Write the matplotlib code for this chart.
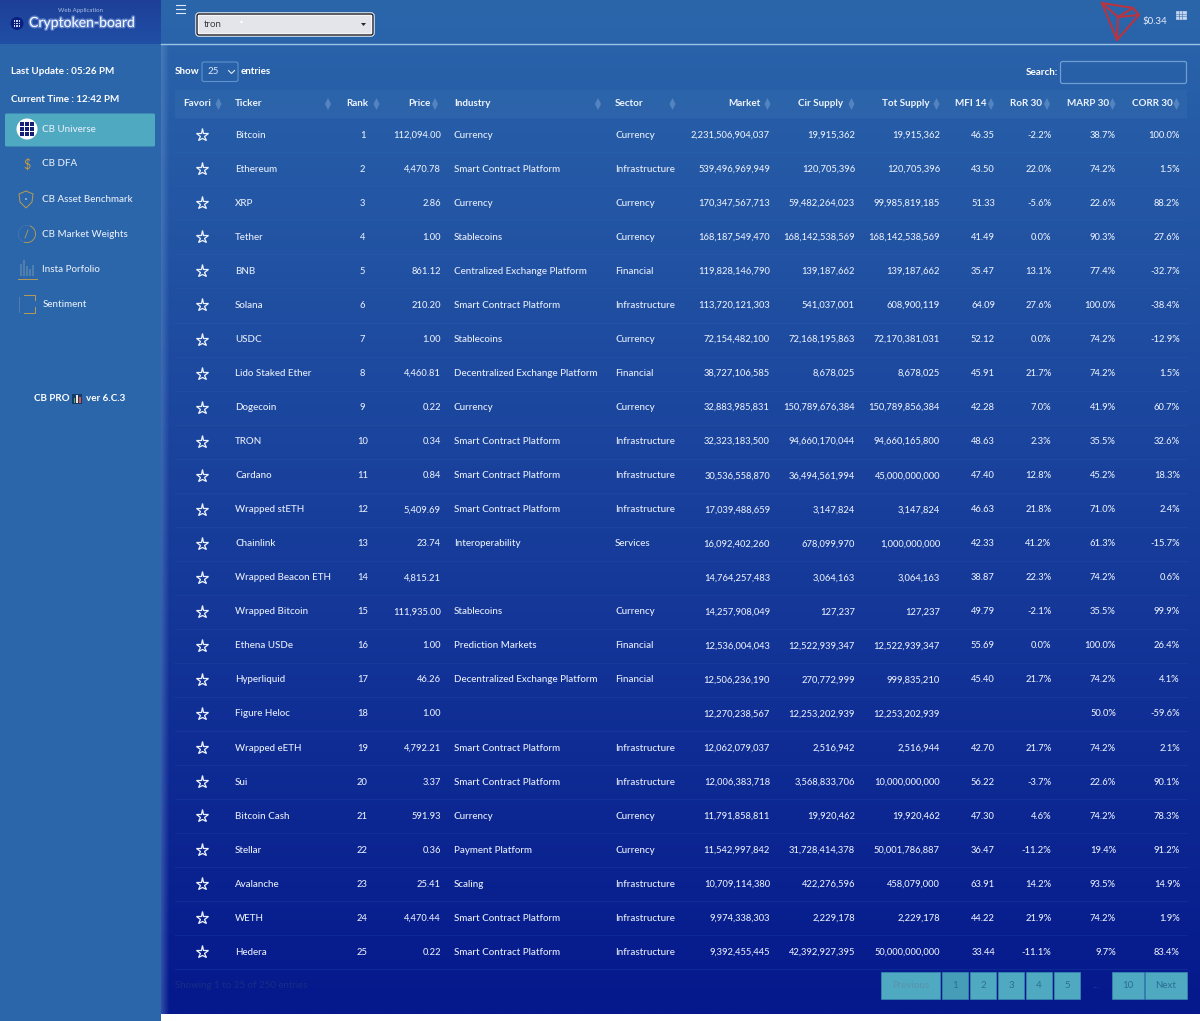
import matplotlib
matplotlib.use('Agg')
import matplotlib.pyplot as plt
import matplotlib.patheffects as pe
from matplotlib.patches import FancyBboxPatch, Rectangle, Circle, Polygon, Wedge
import numpy as np

plt.rcParams['font.family'] = ['Lato', 'DejaVu Sans']

# table content
tickers = ['Bitcoin', 'Ethereum', 'XRP', 'Tether', 'BNB', 'Solana', 'USDC', 'Lido Staked Ether', 'Dogecoin', 'TRON',
           'Cardano', 'Wrapped stETH', 'Chainlink', 'Wrapped Beacon ETH', 'Wrapped Bitcoin', 'Ethena USDe',
           'Hyperliquid', 'Figure Heloc', 'Wrapped eETH', 'Sui', 'Bitcoin Cash', 'Stellar', 'Avalanche', 'WETH', 'Hedera']
ranks = list(range(1, 26))
prices = ['112,094.00', '4,470.78', '2.86', '1.00', '861.12', '210.20', '1.00', '4,460.81', '0.22', '0.34',
          '0.84', '5,409.69', '23.74', '4,815.21', '111,935.00', '1.00', '46.26', '1.00', '4,792.21', '3.37',
          '591.93', '0.36', '25.41', '4,470.44', '0.22']
industries = ['Currency', 'Smart Contract Platform', 'Currency', 'Stablecoins', 'Centralized Exchange Platform',
              'Smart Contract Platform', 'Stablecoins', 'Decentralized Exchange Platform', 'Currency',
              'Smart Contract Platform', 'Smart Contract Platform', 'Smart Contract Platform', 'Interoperability', '',
              'Stablecoins', 'Prediction Markets', 'Decentralized Exchange Platform', '', 'Smart Contract Platform',
              'Smart Contract Platform', 'Currency', 'Payment Platform', 'Scaling', 'Smart Contract Platform',
              'Smart Contract Platform']
sectors = ['Currency', 'Infrastructure', 'Currency', 'Currency', 'Financial', 'Infrastructure', 'Currency', 'Financial',
           'Currency', 'Infrastructure', 'Infrastructure', 'Infrastructure', 'Services', '', 'Currency', 'Financial',
           'Financial', '', 'Infrastructure', 'Infrastructure', 'Currency', 'Currency', 'Infrastructure',
           'Infrastructure', 'Infrastructure']
markets = ['2,231,506,904,037', '539,496,969,949', '170,347,567,713', '168,187,549,470', '119,828,146,790',
           '113,720,121,303', '72,154,482,100', '38,727,106,585', '32,883,985,831', '32,323,183,500', '30,536,558,870',
           '17,039,488,659', '16,092,402,260', '14,764,257,483', '14,257,908,049', '12,536,004,043', '12,506,236,190',
           '12,270,238,567', '12,062,079,037', '12,006,383,718', '11,791,858,811', '11,542,997,842', '10,709,114,380',
           '9,974,338,303', '9,392,455,445']
cir_supply = ['19,915,362', '120,705,396', '59,482,264,023', '168,142,538,569', '139,187,662', '541,037,001',
              '72,168,195,863', '8,678,025', '150,789,676,384', '94,660,170,044', '36,494,561,994', '3,147,824',
              '678,099,970', '3,064,163', '127,237', '12,522,939,347', '270,772,999', '12,253,202,939', '2,516,942',
              '3,568,833,706', '19,920,462', '31,728,414,378', '422,276,596', '2,229,178', '42,392,927,395']
tot_supply = ['19,915,362', '120,705,396', '99,985,819,185', '168,142,538,569', '139,187,662', '608,900,119',
              '72,170,381,031', '8,678,025', '150,789,856,384', '94,660,165,800', '45,000,000,000', '3,147,824',
              '1,000,000,000', '3,064,163', '127,237', '12,522,939,347', '999,835,210', '12,253,202,939', '2,516,944',
              '10,000,000,000', '19,920,462', '50,001,786,887', '458,079,000', '2,229,178', '50,000,000,000']
mfi14 = ['46.35', '43.50', '51.33', '41.49', '35.47', '64.09', '52.12', '45.91', '42.28', '48.63', '47.40', '46.63',
         '42.33', '38.87', '49.79', '55.69', '45.40', '', '42.70', '56.22', '47.30', '36.47', '63.91', '44.22', '33.44']
ror30 = ['-2.2%', '22.0%', '-5.6%', '0.0%', '13.1%', '27.6%', '0.0%', '21.7%', '7.0%', '2.3%', '12.8%', '21.8%',
         '41.2%', '22.3%', '-2.1%', '0.0%', '21.7%', '', '21.7%', '-3.7%', '4.6%', '-11.2%', '14.2%', '21.9%', '-11.1%']
marp30 = ['38.7%', '74.2%', '22.6%', '90.3%', '77.4%', '100.0%', '74.2%', '74.2%', '41.9%', '35.5%', '45.2%', '71.0%',
          '61.3%', '74.2%', '35.5%', '100.0%', '74.2%', '50.0%', '74.2%', '22.6%', '74.2%', '19.4%', '93.5%', '74.2%', '9.7%']
corr30 = ['100.0%', '1.5%', '88.2%', '27.6%', '-32.7%', '-38.4%', '-12.9%', '1.5%', '60.7%', '32.6%', '18.3%', '2.4%',
          '-15.7%', '0.6%', '99.9%', '26.4%', '4.1%', '-59.6%', '2.1%', '90.1%', '78.3%', '91.2%', '14.9%', '1.9%', '83.4%']

headers = ['Favori', 'Ticker', 'Rank', 'Price', 'Industry', 'Sector', 'Market', 'Cir Supply', 'Tot Supply',
           'MFI 14', 'RoR 30', 'MARP 30', 'CORR 30']
menu_labels = ['CB Universe', 'CB DFA', 'CB Asset Benchmark', 'CB Market Weights', 'Insta Porfolio', 'Sentiment']
page_labels = ['Previous', '1', '2', '3', '4', '5', '10', 'Next']

W, H = 1200, 1021
FS = 7.0      # texte
FN = 6.75     # chiffres, Lato est plus large ici
FB = 7.15     # gras
TXT = '#e8eefa'
WT = 'medium'

fig = plt.figure(figsize=(W / 100, H / 100), dpi=100)
ax = fig.add_axes([0, 0, 1, 1])
ax.set_xlim(0, W)
ax.set_ylim(H, 0)
ax.axis('off')


def vgrad(x0, x1, y0, y1, c0, c1, z=0):
    c0 = np.array(matplotlib.colors.to_rgb(c0))
    c1 = np.array(matplotlib.colors.to_rgb(c1))
    t = np.linspace(0, 1, 256)[:, None, None]
    img = c0[None, None, :] * (1 - t) + c1[None, None, :] * t
    ax.imshow(img, extent=(x0, x1, y1, y0), aspect='auto', zorder=z, interpolation='bilinear')


# fonds
ax.add_patch(Rectangle((0, 0), W, H, fc='white', zorder=0))
vgrad(160, W, 0, 1014, '#2b66ab', '#05188c', z=1)
ax.add_patch(Rectangle((0, 0), 161, H, fc='#2b66aa', zorder=2))
vgrad(0, 161, 0, 44, '#1d3f97', '#214fa6', z=3)
# ombre a gauche du contenu
for i in range(8):
    ax.add_patch(Rectangle((161 + i, 44), 1, 970, fc='#6f9ad0', alpha=0.4 * (1 - i / 8), lw=0, zorder=3))
ax.plot([161, W], [44.5, 44.5], color='#9cc3e6', lw=1.0, zorder=4)

# logo
ax.text(80, 10.5, 'Web Application', ha='center', va='center', fontsize=4.4, color='#a9bde2', zorder=5)
ax.add_patch(Circle((17, 23.5), 6.5, fc='#0a1f80', zorder=5))
for gx in (14.5, 17, 19.5):
    for gy in (21, 23.5, 26):
        ax.add_patch(Rectangle((gx - 0.8, gy - 0.8), 1.6, 1.6, fc='#c8d6f5', lw=0, zorder=6))
ax.text(29, 23, 'Cryptoken-board', ha='left', va='center', fontsize=10.1, color='#f2f6ff', zorder=6,
        path_effects=[pe.withStroke(linewidth=2, foreground='#7f9fe0', alpha=0.6)])

# barre du haut
for y in (5, 9, 13):
    ax.plot([176, 185], [y, y], color='#dfe8f6', lw=0.8, zorder=5)
ax.add_patch(FancyBboxPatch((197, 14), 176, 21, boxstyle='round,pad=0,rounding_size=2', fc='#e3e5ea', ec='white',
                            lw=2.4, zorder=5))
ax.add_patch(FancyBboxPatch((197, 14), 176, 21, boxstyle='round,pad=0,rounding_size=2', fc='none', ec='#1a1a22',
                            lw=1.0, zorder=6))
ax.text(204, 24.5, 'tron', ha='left', va='center', fontsize=FS, color='#3a3f48', zorder=6)
ax.add_patch(Circle((241.5, 22), 1.2, fc='white', zorder=6))
ax.add_patch(Polygon([(361, 23), (366, 23), (363.5, 26)], fc='#22262e', zorder=6))

# logo tron + prix
red = '#b8353f'
for seg in ([(1102, 3), (1133, 8), (1139, 15), (1117, 40), (1102, 3)], [(1102, 3), (1118, 17), (1133, 8)],
            [(1118, 17), (1139, 15)], [(1118, 17), (1117, 40)]):
    xs, ys = zip(*seg)
    ax.plot(xs, ys, color=red, lw=1.5, zorder=5, solid_joinstyle='round')
ax.text(1142, 21.5, '$0.34', ha='left', va='center', fontsize=FS, color=TXT, zorder=6)
ax.add_patch(Rectangle((1176, 11), 9.5, 8, fc='#c6d6ee', ec='#dbe6f6', lw=0.4, zorder=5))
for gx in (1179, 1182.3):
    ax.plot([gx, gx], [11, 19], color='#3a70b0', lw=0.4, zorder=6)
for gy in (13.7, 16.3):
    ax.plot([1176, 1185.5], [gy, gy], color='#3a70b0', lw=0.4, zorder=6)

# menu lateral
ax.text(11, 71.5, 'Last Update : 05:26 PM', ha='left', va='center', fontsize=FB, fontweight='bold', color='white', zorder=5)
ax.text(11, 100, 'Current Time : 12:42 PM', ha='left', va='center', fontsize=FB, fontweight='bold', color='white', zorder=5)
ax.add_patch(FancyBboxPatch((5, 113.5), 150, 33, boxstyle='round,pad=0,rounding_size=1.5', fc='#4fa9c1', ec='none', zorder=4))
ax.add_patch(Circle((27, 129), 10.5, fc='white', zorder=5))
for gx in (22, 27, 32):
    for gy in (124, 129, 134):
        ax.add_patch(Rectangle((gx - 1.8, gy - 1.8), 3.6, 3.6, fc='#141f78', lw=0, zorder=6))
for i, lab in enumerate(menu_labels):
    ax.text(42.5, 129 + i * 35, lab, ha='left', va='center', fontsize=FS, fontweight=WT, color='#e6eefa', zorder=6)

gold = '#b99a55'
# icones du menu (simplifiees)
ax.text(27, 164, '$', ha='center', va='center', fontsize=9, color='#c79a45', zorder=5)
ax.add_patch(Polygon([(26, 191), (33, 194), (32, 202), (26, 208), (20, 202), (19, 194)], fc='none', ec=gold, lw=0.7, zorder=5))
ax.add_patch(Circle((26, 199), 0.8, fc='#d8e4f5', zorder=5))
ax.add_patch(Wedge((27, 234), 9, -70, 110, width=0.9, fc=gold, lw=0, zorder=5))
ax.add_patch(Wedge((27, 234), 9, 110, 290, width=0.5, fc='#4f7fae', lw=0, zorder=5))
ax.plot([25, 28], [238, 230], color=gold, lw=0.6, zorder=5)
for bx, bh in zip((20, 23, 26, 29, 32), (12, 16, 10, 7, 11)):
    ax.add_patch(Rectangle((bx, 276 - bh), 2, bh, fc='#4f7fae', lw=0, zorder=5))
ax.plot([18, 37], [279, 279], color=gold, lw=0.7, zorder=5)
ax.plot([24, 34.5, 34.5], [295, 295, 300], color=gold, lw=0.7, zorder=5)
ax.plot([34.5, 34.5, 24], [307, 313.5, 313.5], color=gold, lw=0.7, zorder=5)
ax.plot([19, 19], [297, 312], color='#4f7fae', lw=0.7, zorder=5)

ax.text(34, 398.5, 'CB PRO', ha='left', va='center', fontsize=FB, fontweight='bold', color='white', zorder=5)
ax.add_patch(Rectangle((72, 394), 10, 10, fc='#173a66', zorder=5))
for bx, bh, bc in zip((73.5, 76.3, 79.1), (5, 8, 6), ('#4fae5a', '#e8e8e8', '#d9534f')):
    ax.add_patch(Rectangle((bx, 403 - bh), 1.8, bh, fc=bc, lw=0, zorder=6))
ax.text(86, 398.5, 'ver 6.C.3', ha='left', va='center', fontsize=FB, fontweight='bold', color='white', zorder=5)

# controles du tableau
ax.text(175, 72, 'Show', ha='left', va='center', fontsize=FB, fontweight='bold', color='white', zorder=5)
ax.add_patch(FancyBboxPatch((202, 62), 36, 19.5, boxstyle='round,pad=0,rounding_size=2', fc='none', ec='#5f93cc', lw=0.8, zorder=5))
ax.text(208, 72, '25', ha='left', va='center', fontsize=FS, color='#dfe8f6', zorder=5)
ax.plot([228.5, 231.5, 234.5], [70.5, 73.5, 70.5], color='#dfe8f6', lw=0.8, zorder=5)
ax.text(241, 72, 'entries', ha='left', va='center', fontsize=FB, fontweight='bold', color='white', zorder=5)
ax.text(1058, 72.5, 'Search:', ha='right', va='center', fontsize=FB, fontweight='bold', color='white', zorder=5)
ax.add_patch(FancyBboxPatch((1060.5, 61.5), 126, 22, boxstyle='round,pad=0,rounding_size=2', fc='none', ec='#6f9fd2', lw=0.9, zorder=5))

# en-tete
ax.add_patch(Rectangle((175, 90), 1012, 28, fc='#3a72b4', alpha=0.3, lw=0, zorder=2))
head_x = [183, 235, 346, 408, 454, 615, 728, 798, 882, 955, 1010, 1067, 1132]
sort_x = [218.5, 328, 376.5, 435, 598, 672.5, 767.5, 851.5, 936.5, 991, 1047, 1112.5, 1176.5]
for lab, hx, sx in zip(headers, head_x, sort_x):
    ax.text(hx, 104, lab, ha='left', va='center', fontsize=FB, fontweight='bold', color='#eef3fc', zorder=5)
    ax.add_patch(Polygon([(sx, 98), (sx + 3, 104), (sx, 110), (sx - 3, 104)], fc='#6f9bd0', alpha=0.6, lw=0, zorder=5))

# lignes du tableau
row_y = 135.3 + 34.04 * np.arange(len(tickers))
for y in row_y:
    ax.plot([175, 1187], [y - 17, y - 17], color='#3d6fbe', alpha=0.15, lw=0.7, zorder=3)
ax.plot([175, 1187], [row_y[-1] + 17, row_y[-1] + 17], color='#3d6fbe', alpha=0.15, lw=0.7, zorder=3)
ax.plot(np.full(len(row_y), 201.5), row_y, ls='none', marker='*', ms=9.5, mfc='none', mec='#eef3fc', mew=0.9, zorder=5)

left_cols = [(235, tickers), (454, industries), (615, sectors)]
right_cols = [(441, prices), (770, markets), (855, cir_supply), (940, tot_supply), (995, mfi14), (1051.5, ror30),
              (1116, marp30), (1180, corr30)]
for x, col in left_cols:
    for y, val in zip(row_y, col):
        ax.text(x, y, val, ha='left', va='center', fontsize=FS, fontweight=WT, color=TXT, zorder=5)
for x, col in right_cols:
    for y, val in zip(row_y, col):
        ax.text(x, y, val, ha='right', va='center', fontsize=FN, fontweight=WT, color=TXT, zorder=5)
for y, val in zip(row_y, ranks):
    ax.text(362.5, y, str(val), ha='center', va='center', fontsize=FN, fontweight=WT, color=TXT, zorder=5)

# pagination
ax.text(175, 985, 'Showing 1 to 25 of 250 entries', ha='left', va='center', fontsize=FS, color='#1a2c86', zorder=5)
page_x = [(881, 940), (942, 968), (970, 996), (998, 1024), (1026, 1052), (1054, 1080), (1112, 1144), (1145, 1187)]
for lab, (x0, x1) in zip(page_labels, page_x):
    active = lab == '1'
    ax.add_patch(Rectangle((x0, 972), x1 - x0, 27, fc='#469db7' if active else '#4fa9c1', ec='#3f95b5', lw=0.4, zorder=4))
    col = '#5b93ad' if lab == 'Previous' else '#2b6f94'
    ax.text((x0 + x1) / 2, 985.5, lab, ha='center', va='center', fontsize=FS, color=col, zorder=5)
ax.text(1096, 985.5, '...', ha='center', va='center', fontsize=FS, color='#2a4aa0', zorder=5)

ax.set_xlim(0, W)
ax.set_ylim(H, 0)
fig.savefig('out.png', dpi=100)
